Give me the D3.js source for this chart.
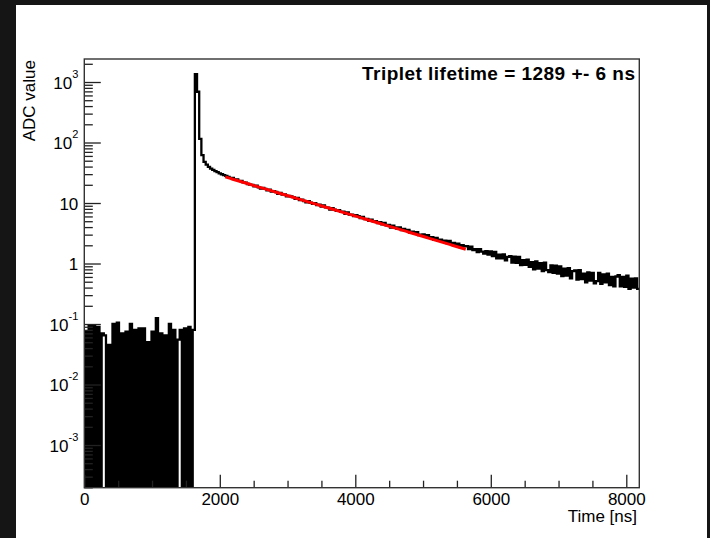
<!DOCTYPE html>
<html>
<head>
<meta charset="utf-8">
<script src="https://cdn.jsdelivr.net/npm/d3@7"></script>
<style>
  body { margin: 0; background: #141414; }
  text { font-family: "Liberation Sans", Arial, Helvetica, sans-serif; fill: #000; }
</style>
</head>
<body>
<script>
// ADC waveform, 32 ns bins from 0 to 8192 ns
var binWidth = 32;

// pre-trigger noise (bins 0-50), many empty bins
var baselineBins = [
    0.075, 0, 0.095, 0, 0.095, 0, 0.09, 0, 0.07, 0.065,
    0, 0.045, 0, 0.1, 0, 0.105, 0, 0.07, 0, 0.075,
    0, 0.1, 0, 0.08, 0, 0.085, 0, 0.085, 0, 0.05,
    0, 0.075, 0, 0.125, 0, 0.07, 0, 0.065, 0, 0.1,
    0, 0.08, 0, 0.055, 0.08, 0, 0.085, 0, 0.09, 0,
    0.08
];

// prompt peak and fast component (bins 51-75)
var pulseBins = [
    1350, 690, 115, 62, 48, 43, 39.5, 37, 35.2, 33.6,
    32.3, 31.0, 29.9, 28.9, 28.0, 27.1, 26.0, 25.9, 24.6, 24.5,
    23.2, 23.1, 22.0, 21.8, 20.6
];

// slow (triplet) tail (bins 76-255)
var tailBins = [
    20.2, 20.0, 18.8, 19.3, 18.1, 17.3, 17.7, 17.1, 16.2, 16.6,
    15.4, 15.7, 15.2, 14.2, 14.7, 13.8, 13.9, 12.9, 13.1, 12.9,
    12.5, 11.7, 12.1, 11.2, 11.4, 10.8, 10.3, 10.7, 10.1, 9.7,
    9.95, 9.23, 9.38, 8.70, 9.11, 8.46, 8.42, 7.81, 8.19, 7.76,
    7.42, 7.61, 7.14, 7.18, 6.60, 6.98, 6.42, 6.45, 6.05, 6.27,
    6.06, 5.63, 5.90, 5.42, 5.45, 5.06, 5.30, 4.97, 5.00, 4.65,
    4.82, 4.43, 4.68, 4.26, 4.34, 3.94, 4.21, 3.96, 3.74, 3.96,
    3.58, 3.74, 3.48, 3.60, 3.22, 3.35, 3.14, 3.31, 2.96, 3.01,
    3.03, 2.76, 2.95, 2.67, 2.73, 2.46, 2.66, 2.46, 2.47, 2.27,
    2.38, 2.17, 2.36, 2.14, 2.19, 2.00, 2.13, 1.87, 2.02, 1.92,
    1.93, 1.73, 1.90, 1.67, 1.73, 1.54, 1.72, 1.57, 1.46, 1.60,
    1.40, 1.58, 1.33, 1.55, 1.22, 1.40, 1.22, 1.41, 1.13, 1.29,
    1.32, 1.04, 1.30, 1.03, 1.28, 0.94, 1.14, 0.95, 1.16, 0.88,
    1.05, 0.80, 1.08, 0.82, 1.01, 0.75, 1.03, 0.78, 0.72, 0.93,
    0.70, 0.92, 0.68, 0.90, 0.62, 0.82, 0.63, 0.84, 0.57, 0.75,
    0.77, 0.54, 0.78, 0.55, 0.68, 0.49, 0.71, 0.52, 0.70, 0.47,
    0.51, 0.70, 0.46, 0.66, 0.49, 0.68, 0.44, 0.60, 0.42, 0.61,
    0.64, 0.42, 0.60, 0.41, 0.63, 0.38, 0.56, 0.40, 0.57, 0.38
];

// exponential fit result
var fitStart = 2080, fitEnd = 5650, fitAmp = 27.0, fitTau = 1289;
var titleText = 'Triplet lifetime = 1289 +- 6 ns';

var xMajorTicks = [0, 2000, 4000, 6000, 8000];
var xMinorTicks = [500, 1000, 1500, 2500, 3000, 3500, 4500, 5000, 5500, 6500, 7000, 7500];
var yMajorTicks = [1e-3, 1e-2, 1e-1, 1, 10, 100, 1000];
var yTickBase = ['10', '10', '10', '1', '10', '10', '10'];
var yTickExp = ['-3', '-2', '-1', '', '', '2', '3'];

var w = 710, h = 538;
var plotL = 84.3, plotR = 639.3, plotT = 59, plotB = 487.7;

var svg = d3.select('body').append('svg')
    .attr('width', w)
    .attr('height', h);

svg.append('rect').attr('width', w).attr('height', h).attr('fill', '#151515');
svg.append('rect')
    .attr('x', 16).attr('y', 5)
    .attr('width', 691).attr('height', 533)
    .attr('fill', '#fff');

var x = d3.scaleLinear().domain([0, 8192]).range([plotL, plotR]);
var y = d3.scaleLog().domain([1.97e-4, 2400]).range([plotB, plotT]);

svg.append('clipPath').attr('id', 'plot')
    .append('rect')
    .attr('x', plotL).attr('y', plotT)
    .attr('width', plotR - plotL).attr('height', plotB - plotT);

var bins = baselineBins.concat(pulseBins, tailBins);
var points = [{ t: 0, v: 0 }];
bins.forEach(function (v, i) { points.push({ t: i * binWidth, v: v }); });
points.push({ t: bins.length * binWidth, v: bins[bins.length - 1] });

function yPix(v) {
    return v > 0 ? Math.min(y(v), plotB) : plotB;
}

var histLine = d3.line()
    .x(function (d) { return x(d.t); })
    .y(function (d) { return yPix(d.v); })
    .curve(d3.curveStepAfter);

var plot = svg.append('g').attr('clip-path', 'url(#plot)');

plot.append('path')
    .attr('d', histLine(points))
    .attr('fill', 'none')
    .attr('stroke', '#000')
    .attr('stroke-width', 2.3);

var fitPoints = d3.range(fitStart, fitEnd + 1, 25).map(function (t) {
    return { t: t, v: fitAmp * Math.exp(-(t - fitStart) / fitTau) };
});

plot.append('path')
    .attr('d', d3.line()
        .x(function (d) { return x(d.t); })
        .y(function (d) { return y(d.v); })(fitPoints))
    .attr('fill', 'none')
    .attr('stroke', '#ff0000')
    .attr('stroke-width', 3);

// axes: ticks drawn inside the frame, ROOT style
var yMinorTicks = [];
for (var k = -4; k <= 3; k++) {
    for (var m = 2; m <= 9; m++) {
        var v = m * Math.pow(10, k);
        if (v > 1.97e-4 && v < 2400) yMinorTicks.push(v);
    }
}

svg.append('g')
    .attr('transform', 'translate(0,' + plotB + ')')
    .call(d3.axisBottom(x).tickValues(xMinorTicks).tickSize(-7).tickSizeOuter(0).tickFormat(''));

var xAxis = svg.append('g')
    .attr('transform', 'translate(0,' + plotB + ')')
    .call(d3.axisBottom(x).tickValues(xMajorTicks).tickSize(-13).tickSizeOuter(0)
        .tickPadding(5.5).tickFormat(d3.format('d')));

svg.append('g')
    .attr('transform', 'translate(' + plotL + ',0)')
    .call(d3.axisLeft(y).tickValues(yMinorTicks).tickSize(-8.5).tickSizeOuter(0).tickFormat(''));

var yAxis = svg.append('g')
    .attr('transform', 'translate(' + plotL + ',0)')
    .call(d3.axisLeft(y).tickValues(yMajorTicks).tickSize(-16.5).tickSizeOuter(0).tickPadding(6));

svg.selectAll('.domain').remove();
svg.selectAll('.tick line').attr('stroke', '#222').attr('stroke-width', 1.3);
svg.selectAll('.tick text').attr('font-size', 17).attr('font-family', null).attr('fill', '#111');

yAxis.selectAll('.tick text').each(function (d, i) {
    var t = d3.select(this).text('').attr('dy', '0.36em');
    t.append('tspan').text(yTickBase[i]);
    if (yTickExp[i]) {
        t.append('tspan').attr('dy', -11).attr('font-size', 11).text(yTickExp[i]);
    }
});

svg.append('rect')
    .attr('x', plotL).attr('y', plotT)
    .attr('width', plotR - plotL).attr('height', plotB - plotT)
    .attr('fill', 'none')
    .attr('stroke', '#333')
    .attr('stroke-width', 1.4);

svg.append('text')
    .attr('x', 637).attr('y', 522)
    .attr('text-anchor', 'end')
    .attr('font-size', 17)
    .text('Time [ns]');

svg.append('text')
    .attr('transform', 'translate(35,60) rotate(-90)')
    .attr('text-anchor', 'end')
    .attr('font-size', 17)
    .text('ADC value');

svg.append('text')
    .attr('x', 362).attr('y', 80)
    .attr('font-size', 19)
    .attr('font-weight', 'bold')
    .attr('textLength', 273)
    .attr('lengthAdjust', 'spacing')
    .text(titleText);
</script>
</body>
</html>
